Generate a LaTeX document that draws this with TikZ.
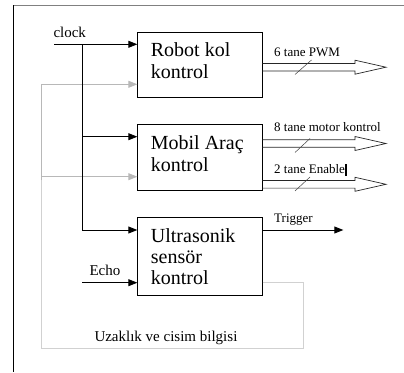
\documentclass[tikz,border=0pt]{standalone}
\usepackage{fontspec}
\setmainfont{Liberation Serif}
\usetikzlibrary{arrows.meta,calc}
\definecolor{fbgray}{gray}{0.72}
\definecolor{loopgray}{gray}{0.82}
\definecolor{framegray}{gray}{0.5}
\newcommand\hollowarrow[2]{%
  \draw[hol] ($(#1)+(0,-3.8)$) -- ($(#2)+(-31,-3.8)$) -- ($(#2)+(-31,-7)$) -- (#2)
    -- ($(#2)+(-31,7)$) -- ($(#2)+(-31,3.8)$) -- ($(#1)+(0,3.8)$);}
\begin{document}
\begin{tikzpicture}[x=1pt,y=-1pt,
  blk/.style={draw=black,line width=0.8pt,inner sep=0pt,minimum width=124.6pt},
  conn/.style={draw=black,line width=0.9pt,-{Triangle[length=9pt,width=7pt]}},
  fb/.style={draw=fbgray,line width=0.9pt,-{Triangle[length=9pt,width=7pt]}},
  loopline/.style={draw=loopgray,line width=0.9pt},
  hol/.style={draw=black!85,line width=0.7pt},
  slash/.style={draw=black!75,line width=0.5pt},
  big/.style={font=\fontsize{20}{22}\selectfont,anchor=base west,inner sep=0pt},
  small/.style={font=\fontsize{13}{15}\selectfont,anchor=base west,inner sep=0pt},
  mid/.style={font=\fontsize{15}{17}\selectfont,anchor=base west,inner sep=0pt}]
\useasboundingbox (0,0) rectangle (404,372);
% page frame
\draw[framegray,line width=0.9pt] (13.3,5.6) -- (404,5.6);
\draw[black,line width=1pt] (13.3,5.2) -- (13.3,372);

% boxes
\node[blk,minimum height=65.4pt] (robot) at (200,65) {};
\node[blk,minimum height=65.7pt] (mobil) at (200,157.2) {};
\node[blk,minimum height=78pt] (ultra) at (200,256.3) {};

% box texts
\node[big] (t1) at (150.7,56) {Robot kol};
\node[big] (t2) at (150.7,78) {kontrol};
\node[big] (t3) at (150.7,149.5) {Mobil Araç};
\node[big] (t4) at (150.7,171) {kontrol};
\node[big] (t5) at (150.7,242.5) {Ultrasonik};
\node[big] (t6) at (150.7,263.5) {sensör};
\node[big] (t7) at (150.7,284.5) {kontrol};

% feedback (gray) loop
\coordinate (lbot) at (41,348.3);
\coordinate (rbot) at (303.3,348.3);
\coordinate (rup) at (303.3,282.7);
\coordinate (ltop) at (41,84.3);
\coordinate (lmid) at (41,176.7);
\draw[loopline] (ultra.east |- rup) -- (rup) -- (rbot) -- (lbot) -- (41,180);
\draw[draw=fbgray,line width=0.9pt] (41,180) -- (ltop);
\draw[fb] (ltop) -- (robot.west |- ltop);
\draw[fb] (lmid) -- (mobil.west |- lmid);
\node[mid] (uz) at (94.3,341.7) {Uzaklık ve cisim bilgisi};

% clock distribution
\coordinate (clk) at (54.3,44.3);
\coordinate (cj) at (82.3,44.3);
\coordinate (cm) at (82.3,136.7);
\coordinate (cu) at (82.3,230);
\draw[line width=0.9pt] (cj) -- (cu);
\draw[conn] (clk) -- (robot.west |- clk);
\draw[conn] (cm) -- (mobil.west |- cm);
\draw[conn] (cu) -- (ultra.west |- cu);
\node[mid] (clklbl) at (53.3,37.7) {clock};

% echo
\coordinate (echo) at (82.3,282.7);
\draw[conn] (echo) -- (ultra.west |- echo);
\node[mid] (echolbl) at (89.3,275.7) {Echo};

% trigger
\coordinate (trig) at (343.3,230);
\draw[conn] (ultra.east |- trig) -- (trig);
\node[small] (triglbl) at (274,222) {Trigger};

% hollow bus arrows
\coordinate (a1s) at (262.3,67.2);
\coordinate (a1) at (386,67.2);
\coordinate (a2s) at (262.3,143.5);
\coordinate (a2) at (386,143.5);
\coordinate (a3s) at (262.3,184.3);
\coordinate (a3) at (386,184.3);
\hollowarrow{a1s}{a1}
\hollowarrow{a2s}{a2}
\hollowarrow{a3s}{a3}
\draw[slash] (295,74.5) -- (311.5,60);
\draw[slash] (295,152.5) -- (310,138.5);
\draw[slash] (295,191) -- (310,177);
\node[small] (l1) at (274,56.7) {6 tane PWM};
\node[small] (l2) at (274,131.7) {8 tane motor kontrol};
\node[small] (l3) at (274,173.3) {2 tane Enable};
\draw[black,line width=1.2pt] (346,164.3) -- (346,175.5);
\end{tikzpicture}
\end{document}
